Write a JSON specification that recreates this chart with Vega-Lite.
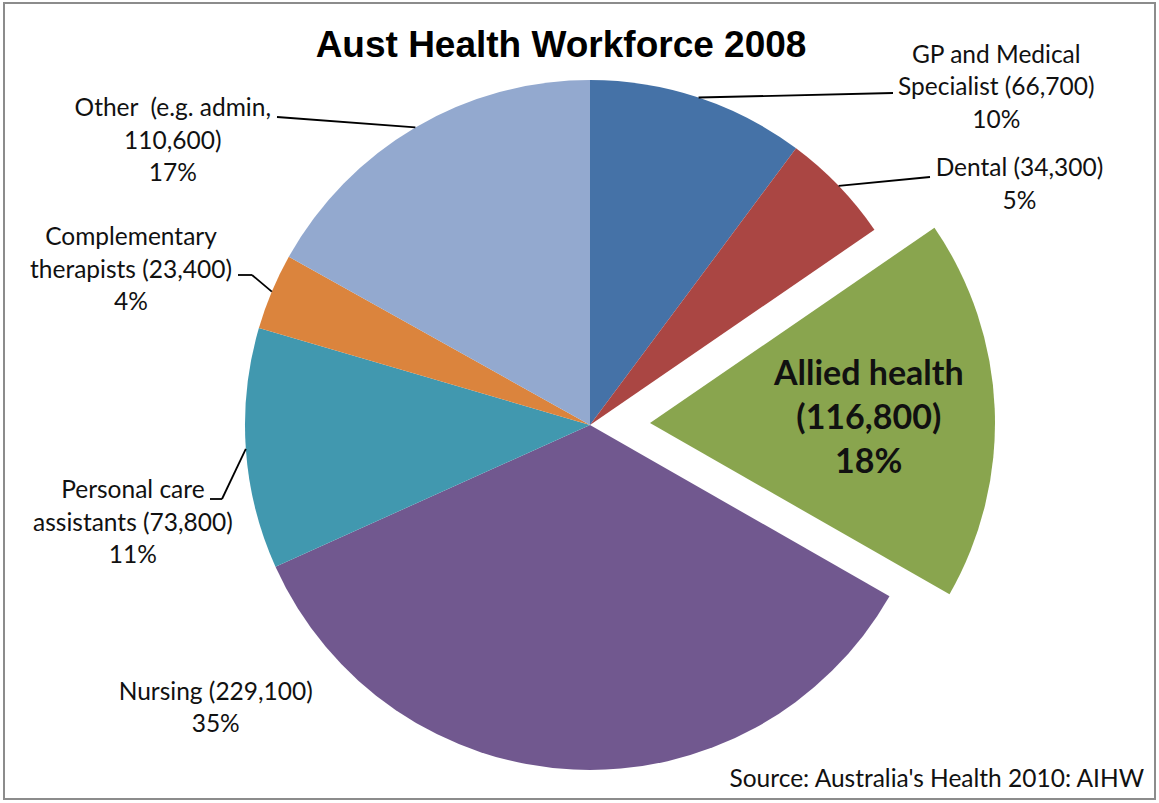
{
  "$schema": "https://vega.github.io/schema/vega-lite/v6.json",
  "width": 1159,
  "height": 803,
  "autosize": {"type": "fit", "contains": "padding"},
  "padding": {"left": 3, "top": 2, "right": 3, "bottom": 3},
  "background": "white",
  "config": {"view": {"stroke": null}},
  "data": {
    "values": [
      {"key": "gp", "category": "GP and Medical Specialist", "value": 66700, "order": 1, "label": "GP and Medical\nSpecialist (66,700)\n10%"},
      {"key": "dental", "category": "Dental", "value": 34300, "order": 2, "label": "Dental (34,300)\n5%"},
      {"key": "allied", "category": "Allied health", "value": 116800, "order": 3, "label": "Allied health\n(116,800)\n18%"},
      {"key": "nursing", "category": "Nursing", "value": 229100, "order": 4, "label": "Nursing (229,100)\n35%"},
      {"key": "pca", "category": "Personal care assistants", "value": 73800, "order": 5, "label": "Personal care\nassistants (73,800)\n11%"},
      {"key": "comp", "category": "Complementary therapists", "value": 23400, "order": 6, "label": "Complementary\ntherapists (23,400)\n4%"},
      {"key": "other", "category": "Other (e.g. admin)", "value": 110600, "order": 7, "label": "Other\u00a0 (e.g. admin,\n110,600)\n17%"}
    ]
  },
  "layer": [
    {
      "data": {"values": [{"t": "border"}]},
      "mark": {"type": "rect", "fill": "white", "stroke": "#8c8c8c", "strokeWidth": 2},
      "encoding": {
        "x": {"value": 0}, "x2": {"value": "width"},
        "y": {"value": 0}, "y2": {"value": "height"}
      }
    },
    {
      "mark": {"type": "arc", "outerRadius": 345, "x": {"expr": "width/2+10.5"}, "y": {"expr": "height/2+24"}},
      "encoding": {
        "theta": {"field": "value", "type": "quantitative", "stack": true},
        "order": {"field": "order", "type": "quantitative"},
        "color": {"field": "key", "type": "nominal", "legend": null,
          "scale": {"domain": ["gp", "dental", "allied", "nursing", "pca", "comp", "other"],
                    "range": ["#4572a7", "#aa4643", "#89a54e", "#71588f", "#4198af", "#db843d", "#93a9cf"]}},
        "opacity": {"condition": {"test": "datum.key === 'allied'", "value": 0}, "value": 1}
      }
    },
    {
      "mark": {"type": "arc", "outerRadius": 345, "x": {"expr": "width/2+70.5"}, "y": {"expr": "height/2+22"}},
      "encoding": {
        "theta": {"field": "value", "type": "quantitative", "stack": true},
        "order": {"field": "order", "type": "quantitative"},
        "color": {"field": "key", "type": "nominal", "legend": null,
          "scale": {"domain": ["gp", "dental", "allied", "nursing", "pca", "comp", "other"],
                    "range": ["#4572a7", "#aa4643", "#89a54e", "#71588f", "#4198af", "#db843d", "#93a9cf"]}},
        "opacity": {"condition": {"test": "datum.key === 'allied'", "value": 1}, "value": 0}
      }
    },
    {
      "transform": [
        {"joinaggregate": [{"op": "sum", "field": "value", "as": "total"}]},
        {"window": [{"op": "sum", "field": "value", "as": "cum"}], "sort": [{"field": "order"}], "frame": [null, 0]},
        {"calculate": "2*PI*(datum.cum - datum.value/2)/datum.total", "as": "mid"},
        {"filter": "datum.key !== 'allied' && datum.key !== 'nursing'"},
        {"calculate": "width/2+10.5+345*sin(datum.mid)", "as": "sx"},
        {"calculate": "height/2+24-345*cos(datum.mid)", "as": "sy"},
        {"calculate": "width/2+10.5+({gp: 303, dental: 340, other: -313, comp: -338, pca: -368})[datum.key]", "as": "ex"},
        {"calculate": "height/2+24+({gp: -332, dental: -248, other: -308, comp: -150, pca: 74})[datum.key]", "as": "ey"}
      ],
      "mark": {"type": "rule", "color": "#000000", "strokeWidth": 1.8},
      "encoding": {
        "x": {"field": "sx", "type": "quantitative", "scale": null},
        "y": {"field": "sy", "type": "quantitative", "scale": null},
        "x2": {"field": "ex"},
        "y2": {"field": "ey"}
      }
    },
    {
      "transform": [
        {"filter": "datum.key === 'comp' || datum.key === 'pca'"},
        {"calculate": "width/2+10.5+({comp: -338, pca: -368})[datum.key]", "as": "sx"},
        {"calculate": "height/2+24+({comp: -150, pca: 74})[datum.key]", "as": "sy"},
        {"calculate": "width/2+10.5+({comp: -352, pca: -380})[datum.key]", "as": "ex"}
      ],
      "mark": {"type": "rule", "color": "#000000", "strokeWidth": 1.8},
      "encoding": {
        "x": {"field": "sx", "type": "quantitative", "scale": null},
        "y": {"field": "sy", "type": "quantitative", "scale": null},
        "x2": {"field": "ex"},
        "y2": {"field": "sy"}
      }
    },
    {
      "mark": {
        "type": "text", "radius": 360, "x": {"expr": "width/2+10.5"}, "y": {"expr": "height/2+24"},
        "font": "Lato", "fontSize": 24.5, "lineHeight": 32.5, "lineBreak": "\n",
        "align": "center", "baseline": "middle", "color": "#111111",
        "dx": {"expr": "({gp: 293, dental: 170, allied: 0, nursing: -357, pca: -98, comp: -127, other: -235})[datum.key]"},
        "dy": {"expr": "({gp: -27.5, dental: -6, allied: 0, nursing: -92, pca: 41.5, comp: -47.5, other: -5.5})[datum.key]"}
      },
      "encoding": {
        "theta": {"field": "value", "type": "quantitative", "stack": true},
        "order": {"field": "order", "type": "quantitative"},
        "text": {"field": "label", "type": "nominal"},
        "opacity": {"condition": {"test": "datum.key === 'allied'", "value": 0}, "value": 1}
      }
    },
    {
      "mark": {
        "type": "text", "radius": 280, "x": {"expr": "width/2+10.5"}, "y": {"expr": "height/2+24"},
        "font": "Lato", "fontWeight": "bold", "fontSize": 34, "lineHeight": 44, "lineBreak": "\n",
        "align": "center", "baseline": "middle", "color": "#111111", "dx": -1, "dy": -39
      },
      "encoding": {
        "theta": {"field": "value", "type": "quantitative", "stack": true},
        "order": {"field": "order", "type": "quantitative"},
        "text": {"field": "label", "type": "nominal"},
        "opacity": {"condition": {"test": "datum.key === 'allied'", "value": 1}, "value": 0}
      }
    },
    {
      "data": {"values": [{"t": "Aust Health Workforce 2008"}]},
      "mark": {
        "type": "text", "font": "Liberation Sans", "fontWeight": "bold", "fontSize": 37,
        "align": "center", "baseline": "alphabetic", "color": "#000000",
        "x": {"expr": "width/2-18.5"}, "y": {"expr": "54"}
      },
      "encoding": {"text": {"field": "t", "type": "nominal"}}
    },
    {
      "data": {"values": [{"t": "Source: Australia's Health 2010: AIHW"}]},
      "mark": {
        "type": "text", "font": "Lato", "fontSize": 24.5,
        "align": "right", "baseline": "alphabetic", "color": "#111111",
        "x": {"expr": "width-11"}, "y": {"expr": "height-12"}
      },
      "encoding": {"text": {"field": "t", "type": "nominal"}}
    }
  ]
}
